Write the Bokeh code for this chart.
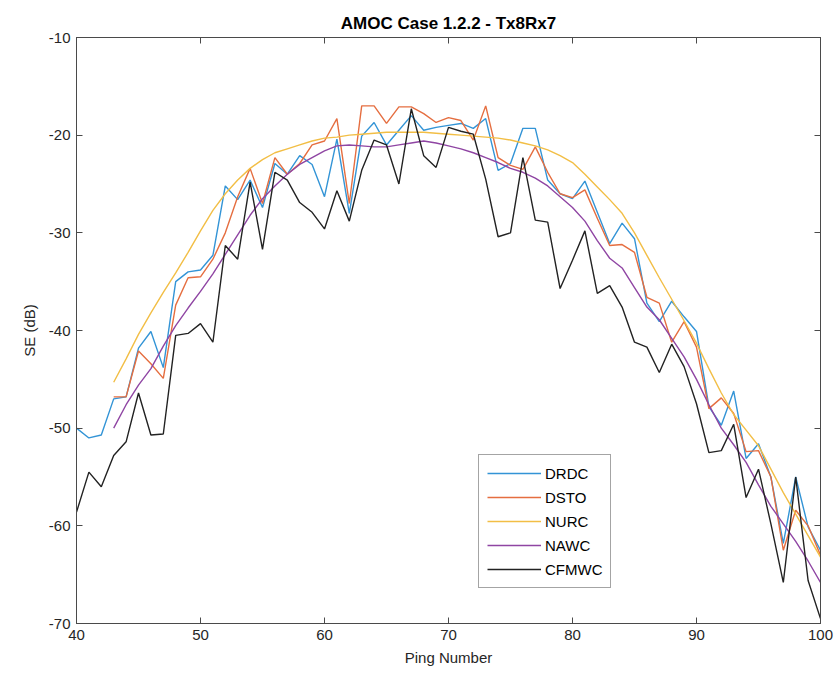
from bokeh.plotting import figure
from bokeh.models import Range1d, LinearAxis, FixedTicker, Legend, LegendItem, CustomJSTickFormatter
from bokeh.embed import file_html
from bokeh.resources import INLINE

ping = list(range(40, 101))
ping43 = list(range(43, 101))

drdc = [-50, -51, -50.7, -47, -46.8, -41.8, -40.1, -43.8, -35, -34, -33.8, -32.3, -25.2, -26.6, -24.6,
        -27.4, -22.9, -24, -22.1, -23, -26.3, -20.4, -28, -20.1, -18.7, -21, -19.5, -18, -19.5, -19.2,
        -19, -18.8, -19.3, -18.3, -23.6, -22.9, -19.3, -19.3, -24.6, -26, -26.5, -24.7, -27.9, -31.1,
        -29, -30.6, -37.2, -39.1, -37, -38.6, -40.1, -47.8, -49.7, -46.2, -53.1, -51.6, -55, -61.8,
        -55, -60.1, -62.5]

dsto = [-46.8, -46.8, -42.1, -43.4, -44.9, -37.4, -34.6, -34.5, -32.7, -30, -26.3, -23.4, -27, -22.3,
        -24, -22.9, -21, -20.6, -18.3, -27, -17, -17, -18.8, -17.1, -17.1, -17.8, -18.7, -18.2, -18.5,
        -20.5, -17, -22.3, -23.1, -23.5, -21.2, -23.8, -26, -26.4, -25.6, -28.5, -31.3, -31.2, -32,
        -36.6, -37.2, -41.2, -39.1, -41.7, -48, -46.9, -48.5, -52.4, -52.3, -55, -62.5, -58.4, -60, -63]

nurc = [-45.3, -42.9, -40.4, -38.2, -36.1, -34.1, -32.0, -29.8, -27.7, -26.0, -24.6, -23.4, -22.5,
        -21.8, -21.4, -21.0, -20.6, -20.3, -20.2, -20.0, -19.9, -19.8, -19.7, -19.7, -19.7, -19.7,
        -19.8, -19.9, -20.0, -20.1, -20.2, -20.3, -20.5, -20.8, -21.1, -21.5, -22.1, -22.8, -24.0,
        -25.3, -26.6, -28.0, -30.0, -32.3, -34.6, -36.8, -39.0, -41.3, -43.9, -46.4, -48.6, -50.2,
        -51.8, -54.2, -56.6, -58.8, -61.0, -63.2]

nawc = [-50, -47.6, -45.6, -43.9, -41.6, -39.5, -37.7, -36.0, -34.2, -32.2, -30.2, -28.2, -26.5,
        -25.2, -24.0, -23.0, -22.3, -21.6, -21.1, -21.0, -21.1, -21.2, -21.2, -21.0, -20.8, -20.6,
        -20.8, -21.1, -21.4, -21.8, -22.3, -22.8, -23.4, -23.8, -24.4, -25.2, -26.3, -27.4, -28.8,
        -30.8, -32.6, -33.6, -35.6, -37.6, -38.9, -40.8, -42.7, -45.0, -47.6, -50.0, -51.7, -53.5,
        -55.8, -58.0, -59.8, -61.6, -63.6, -65.8]

cfmwc = [-58.6, -54.5, -56, -52.8, -51.4, -46.4, -50.7, -50.6, -40.5, -40.3, -39.3, -41.2, -31.3,
         -32.7, -24.8, -31.7, -23.8, -24.6, -26.9, -27.9, -29.6, -25.7, -28.8, -23.6, -20.5, -21, -25,
         -17.3, -22.1, -23.3, -19.2, -19.6, -19.9, -24.5, -30.4, -30, -22.3, -28.7, -28.9, -35.7,
         -32.8, -29.8, -36.2, -35.4, -37.6, -41.2, -41.7, -44.3, -41.4, -43.7, -47.5, -52.5, -52.3,
         -49.6, -57.1, -54.2, -59.8, -65.8, -55, -65.6, -69.5]

x_ticks = [40, 50, 60, 70, 80, 90, 100]
y_ticks = [-70, -60, -50, -40, -30, -20, -10]

FONT = "Liberation Sans"
AX = "#4a4a4a"
TXT = "#262626"

p = figure(width=840, height=685, output_backend="svg", toolbar_location=None,
           x_range=Range1d(40, 100), y_range=Range1d(-70, -10),
           title="AMOC Case 1.2.2 - Tx8Rx7",
           min_border_left=76, min_border_right=20, min_border_top=37, min_border_bottom=62)

p.title.align = "center"
p.title.text_font = FONT
p.title.text_font_size = "17px"
p.title.text_font_style = "bold"
p.title.text_color = "#000000"

p.xgrid.visible = False
p.ygrid.visible = False
p.outline_line_color = AX
p.outline_line_width = 1

def style_axis(ax, ticks, show_labels=True):
    ax.ticker = FixedTicker(ticks=ticks)
    ax.major_tick_in = 6
    ax.major_tick_out = 0
    ax.minor_tick_line_color = None
    ax.axis_line_color = AX
    ax.major_tick_line_color = AX
    ax.major_label_text_font = FONT
    ax.major_label_text_color = TXT
    if show_labels:
        ax.major_label_text_font_size = "15px"
        ax.major_label_overrides = {t: str(t) for t in ticks}
    else:
        ax.formatter = CustomJSTickFormatter(code="return '';")
        ax.major_label_standoff = 0

style_axis(p.xaxis[0], x_ticks)
style_axis(p.yaxis[0], y_ticks)
p.xaxis[0].axis_label = "Ping Number"
p.yaxis[0].axis_label = "SE (dB)"
for ax in (p.xaxis[0], p.yaxis[0]):
    ax.axis_label_text_font = FONT
    ax.axis_label_text_font_size = "15px"
    ax.axis_label_text_font_style = "normal"
    ax.axis_label_text_color = TXT
    ax.major_label_standoff = 6
p.xaxis[0].axis_label_standoff = 6
p.yaxis[0].axis_label_standoff = 8

top_ax = LinearAxis()
style_axis(top_ax, x_ticks, show_labels=False)
p.add_layout(top_ax, "above")
right_ax = LinearAxis()
style_axis(right_ax, y_ticks, show_labels=False)
p.add_layout(right_ax, "right")

LW = 1.4
r1 = p.line(ping, drdc, line_color="#3394D6", line_width=LW)
r2 = p.line(ping43, dsto, line_color="#E56E40", line_width=LW)
r3 = p.line(ping43, nurc, line_color="#F2BE45", line_width=LW)
r4 = p.line(ping43, nawc, line_color="#8F45A3", line_width=LW)
r5 = p.line(ping, cfmwc, line_color="#222222", line_width=LW)

legend = Legend(items=[LegendItem(label="DRDC", renderers=[r1]),
                       LegendItem(label="DSTO", renderers=[r2]),
                       LegendItem(label="NURC", renderers=[r3]),
                       LegendItem(label="NAWC", renderers=[r4]),
                       LegendItem(label="CFMWC", renderers=[r5])],
                location=(402, 35))
legend.label_text_font = FONT
legend.label_text_font_size = "15px"
legend.label_text_color = "#000000"
legend.glyph_width = 54
legend.glyph_height = 20
legend.label_height = 20
legend.spacing = 4
legend.padding = 8
legend.margin = 0
legend.label_standoff = 4
legend.border_line_color = AX
legend.border_line_width = 1
legend.background_fill_alpha = 1
p.add_layout(legend, "center")

open("out.html", "w").write(file_html(p, INLINE))
